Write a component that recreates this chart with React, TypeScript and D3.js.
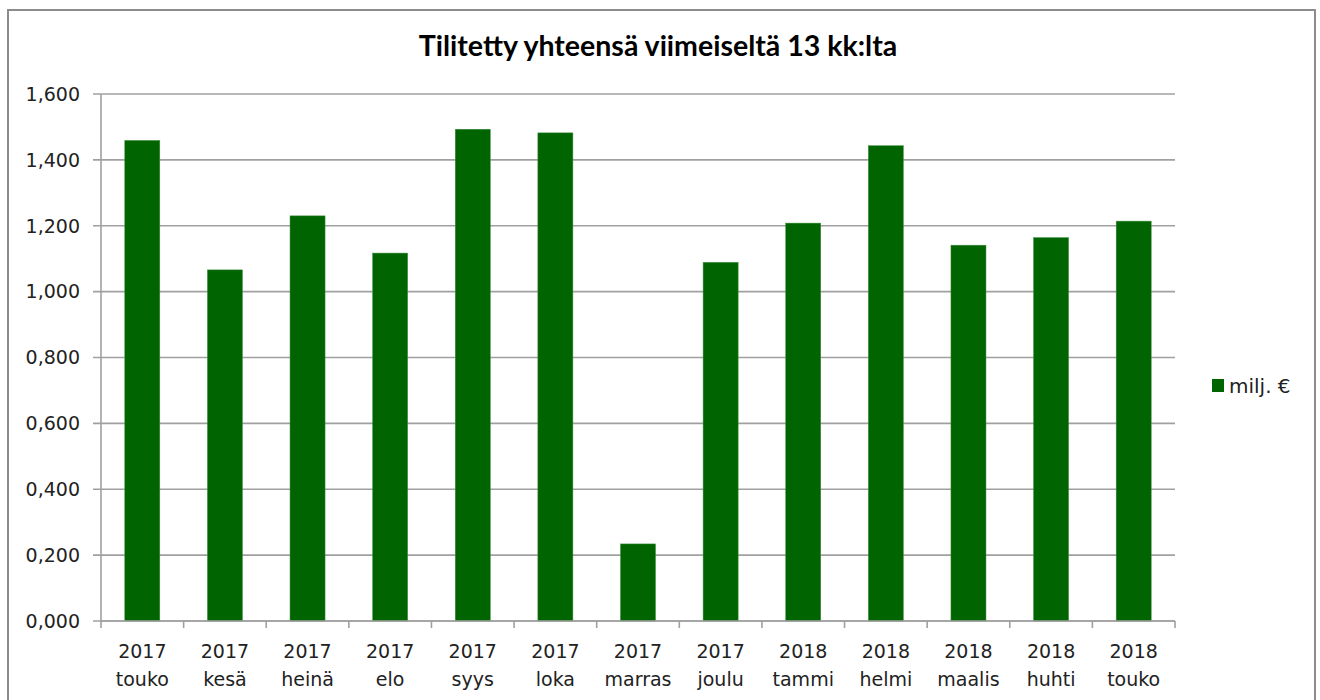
import React from "react";
import * as d3 from "d3";

const years = ["2017", "2017", "2017", "2017", "2017", "2017", "2017", "2017", "2018", "2018", "2018", "2018", "2018"];
const months = ["touko", "kesä", "heinä", "elo", "syys", "loka", "marras", "joulu", "tammi", "helmi", "maalis", "huhti", "touko"];
const values = [1.459, 1.066, 1.23, 1.117, 1.493, 1.482, 0.234, 1.089, 1.208, 1.443, 1.141, 1.164, 1.214];
const yTicks = [0, 0.2, 0.4, 0.6, 0.8, 1.0, 1.2, 1.4, 1.6];
const title = "Tilitetty yhteensä viimeiseltä 13 kk:lta";
const seriesName = "milj. €";

const W = 1320;
const H = 700;
const left = 101;
const right = 1175;
const top = 94;
const bottom = 621;
const barColor = "#006400";
const gridColor = "#a0a0a0";
const axisFont = "'DejaVu Sans', Verdana, sans-serif";

export default function App() {
  const idx = months.map((_, i) => String(i));
  const x = d3.scaleBand<string>().domain(idx).range([left, right]).paddingInner(0.576).paddingOuter(0.288);
  const y = d3.scaleLinear().domain([0, 1.6]).range([bottom, top]);
  const fmt = (v: number) => d3.format(".3f")(v).replace(".", ",");
  const step = x.step();
  const boundaries = d3.range(0, months.length + 1).map((i) => left + i * step);

  return (
    <svg
      width={W}
      height={H}
      style={{ position: "absolute", left: 0, top: 0, background: "#fff" }}
    >
      <rect x={0} y={0} width={W} height={H} fill="#fff" />
      <rect x={8} y={10} width={1307} height={700} fill="#fff" stroke="#8c8c8c" strokeWidth={2} />
      <text
        x={658}
        y={56}
        textAnchor="middle"
        fontFamily="Lato, 'Open Sans', sans-serif"
        fontWeight="bold"
        fontSize={28.5}
        fill="#000"
      >
        {title}
      </text>
      {yTicks.map((t) => (
        <g key={t}>
          <line x1={93} x2={right} y1={y(t)} y2={y(t)} stroke={gridColor} strokeWidth={1.6} />
          <text
            x={80}
            y={y(t)}
            dy="0.36em"
            textAnchor="end"
            fontFamily={axisFont}
            fontSize={19}
            fill="#222"
          >
            {fmt(t)}
          </text>
        </g>
      ))}
      <line x1={left} x2={left} y1={top} y2={bottom} stroke={gridColor} strokeWidth={1.6} />
      {values.map((v, i) => (
        <rect
          key={i}
          x={x(String(i))}
          y={y(v)}
          width={x.bandwidth()}
          height={y(0) - y(v)}
          fill={barColor}
          stroke="#3f8f3f"
          strokeWidth={0.5}
        />
      ))}
      <line x1={left} x2={right} y1={bottom} y2={bottom} stroke={gridColor} strokeWidth={1.6} />
      {boundaries.map((bx, i) => (
        <line key={i} x1={bx} x2={bx} y1={bottom} y2={bottom + 7} stroke={gridColor} strokeWidth={1.6} />
      ))}
      {months.map((m, i) => {
        const cx = (x(String(i)) as number) + x.bandwidth() / 2;
        return (
          <g key={i}>
            <text x={cx} y={658} textAnchor="middle" fontFamily={axisFont} fontSize={19} fill="#222">
              {years[i]}
            </text>
            <text x={cx} y={686} textAnchor="middle" fontFamily={axisFont} fontSize={19} fill="#222">
              {m}
            </text>
          </g>
        );
      })}
      <rect x={1212} y={379} width={12} height={13} fill={barColor} />
      <text x={1229} y={393} fontFamily={axisFont} fontSize={20} fill="#222">
        {seriesName}
      </text>
    </svg>
  );
}
